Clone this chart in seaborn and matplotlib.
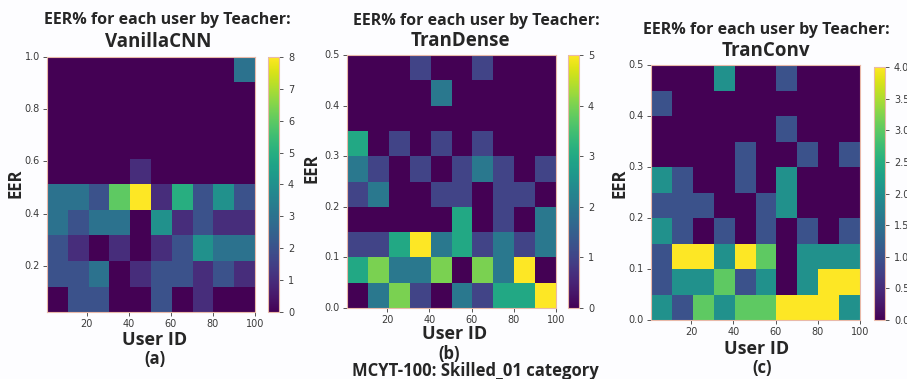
import numpy as np
import matplotlib
matplotlib.use("Agg")
import matplotlib.pyplot as plt
import seaborn as sns

# counts of users per (user-id bin, EER bin); rows go bottom -> top
counts_vanilla = [
    [0, 2, 2, 0, 0, 2, 0, 1, 0, 0],
    [2, 2, 3, 0, 1, 2, 2, 1, 2, 1],
    [2, 1, 0, 1, 0, 1, 2, 4, 3, 3],
    [3, 2, 3, 3, 0, 4, 1, 2, 1, 1],
    [3, 3, 2, 6, 8, 1, 5, 2, 4, 2],
    [0, 0, 0, 0, 1, 0, 0, 0, 0, 0],
    [0, 0, 0, 0, 0, 0, 0, 0, 0, 0],
    [0, 0, 0, 0, 0, 0, 0, 0, 0, 0],
    [0, 0, 0, 0, 0, 0, 0, 0, 0, 0],
    [0, 0, 0, 0, 0, 0, 0, 0, 0, 3],
]
counts_dense = [
    [0, 2, 4, 1, 0, 2, 1, 3, 3, 5],
    [3, 4, 2, 2, 4, 0, 4, 2, 5, 0],
    [1, 1, 3, 5, 2, 3, 1, 2, 1, 2],
    [0, 0, 0, 0, 0, 3, 0, 1, 0, 2],
    [1, 2, 0, 0, 1, 1, 0, 1, 1, 0],
    [2, 1, 0, 1, 0, 1, 2, 1, 0, 1],
    [3, 0, 1, 0, 1, 0, 1, 0, 0, 0],
    [0, 0, 0, 0, 0, 0, 0, 0, 0, 0],
    [0, 0, 0, 0, 2, 0, 0, 0, 0, 0],
    [0, 0, 0, 1, 0, 0, 1, 0, 0, 0],
]
counts_conv = [
    [2, 1, 3, 2, 3, 3, 4, 4, 4, 2],
    [1, 2, 2, 3, 1, 2, 0, 2, 4, 4],
    [1, 4, 4, 2, 4, 3, 0, 2, 2, 2],
    [2, 1, 0, 1, 0, 1, 0, 1, 0, 1],
    [1, 1, 1, 0, 0, 1, 2, 0, 0, 0],
    [2, 1, 0, 0, 1, 0, 2, 0, 0, 0],
    [0, 0, 0, 0, 1, 0, 0, 1, 0, 1],
    [0, 0, 0, 0, 0, 0, 1, 0, 0, 0],
    [1, 0, 0, 0, 0, 0, 0, 0, 0, 0],
    [0, 0, 0, 2, 0, 0, 1, 0, 0, 0],
]

teachers = ["VanillaCNN", "TranDense", "TranConv"]
panel_tags = ["(a)", "(b)", "(c)"]
user_range = (1, 100)
eer_ranges = [(0.023, 1.0), (0.0, 0.5), (0.0, 0.5)]
user_ticks = [20, 40, 60, 80, 100]
eer_ticks = [[0.2, 0.4, 0.6, 0.8, 1.0],
             [0.0, 0.1, 0.2, 0.3, 0.4, 0.5],
             [0.0, 0.1, 0.2, 0.3, 0.4, 0.5]]
cbar_ticks = [list(range(0, 9)), list(range(0, 6)),
              [0.0, 0.5, 1.0, 1.5, 2.0, 2.5, 3.0, 3.5, 4.0]]
caption = "MCYT-100: Skilled_01 category"

sns.set_style("white")
plt.rcParams["font.family"] = ["DejaVu Sans"]

W, H = 907, 379
fig = plt.figure(figsize=(W / 100, H / 100), dpi=100, facecolor="#fdfdff")

def rect(x0, y0, x1, y1):
    return [x0 / W, 1 - y1 / H, (x1 - x0) / W, (y1 - y0) / H]

# pixel boxes for the heatmaps and colourbars
ax_boxes = [(47, 57, 255, 312), (347, 55, 556, 308), (651, 65, 860, 320)]
cb_boxes = [(268, 57, 279, 312), (568, 55, 579, 308), (874, 67, 885, 320)]
# text anchors (x, y) in pixels
title1_pos = [(167, 20), (476, 21), (766, 30)]
title2_pos = [(158, 42), (460, 41), (766, 51)]
ylab_pos = [(15, 183), (312, 168), (620, 183)]
xlab_pos = [(155, 340), (455, 334), (757, 349)]
tag_pos = [(155, 359), (449, 354), (762, 368)]

edge = "#e9b9a9"
tfont = "Open Sans"
all_counts = [counts_vanilla, counts_dense, counts_conv]

for i, counts in enumerate(all_counts):
    ax = fig.add_axes(rect(*ax_boxes[i]))
    cax = fig.add_axes(rect(*cb_boxes[i]))
    mat = np.array(counts)
    sns.heatmap(mat, ax=ax, cbar_ax=cax, cmap="viridis", vmin=0,
                vmax=cbar_ticks[i][-1], square=False)
    ax.invert_yaxis()

    # map data values onto the 10x10 cell grid
    x0, x1 = user_range
    y0, y1 = eer_ranges[i]
    ax.set_xticks([(u - x0) / (x1 - x0) * 10 for u in user_ticks])
    ax.set_xticklabels([str(u) for u in user_ticks], rotation=0)
    ax.set_yticks([(v - y0) / (y1 - y0) * 10 for v in eer_ticks[i]])
    ax.set_yticklabels([f"{v:.1f}" for v in eer_ticks[i]], rotation=0)
    ax.tick_params(axis="both", labelsize=7, colors="#3a3a3a", length=3,
                   width=0.6, left=True, bottom=True, pad=2)
    for s in ax.spines.values():
        s.set_visible(True)
        s.set_color(edge)
        s.set_linewidth(0.8)

    cb = ax.collections[0].colorbar
    cb.set_ticks(cbar_ticks[i])
    if i == 2:
        cb.set_ticklabels([f"{t:.1f}" for t in cbar_ticks[i]])
    cb.outline.set_visible(True)
    cb.outline.set_edgecolor(edge)
    cb.outline.set_linewidth(0.8)
    cax.tick_params(labelsize=7, colors="#3a3a3a", length=3, width=0.6)

    def put(pos, txt, size, **kw):
        fig.text(pos[0] / W, 1 - pos[1] / H, txt, ha="center", va="center",
                 fontsize=size, fontweight="bold", family=tfont, **kw)

    put(title1_pos[i], "EER% for each user by Teacher:", 11.5)
    put(title2_pos[i], teachers[i], 13.5)
    put(ylab_pos[i], "EER", 12, rotation=90)
    put(xlab_pos[i], "User ID", 13)
    put(tag_pos[i], panel_tags[i], 12)

fig.text(475 / W, 1 - 371 / H, caption, ha="center", va="center",
         fontsize=12, fontweight="bold", family=tfont)

fig.savefig("out.png", dpi=100, facecolor=fig.get_facecolor())
